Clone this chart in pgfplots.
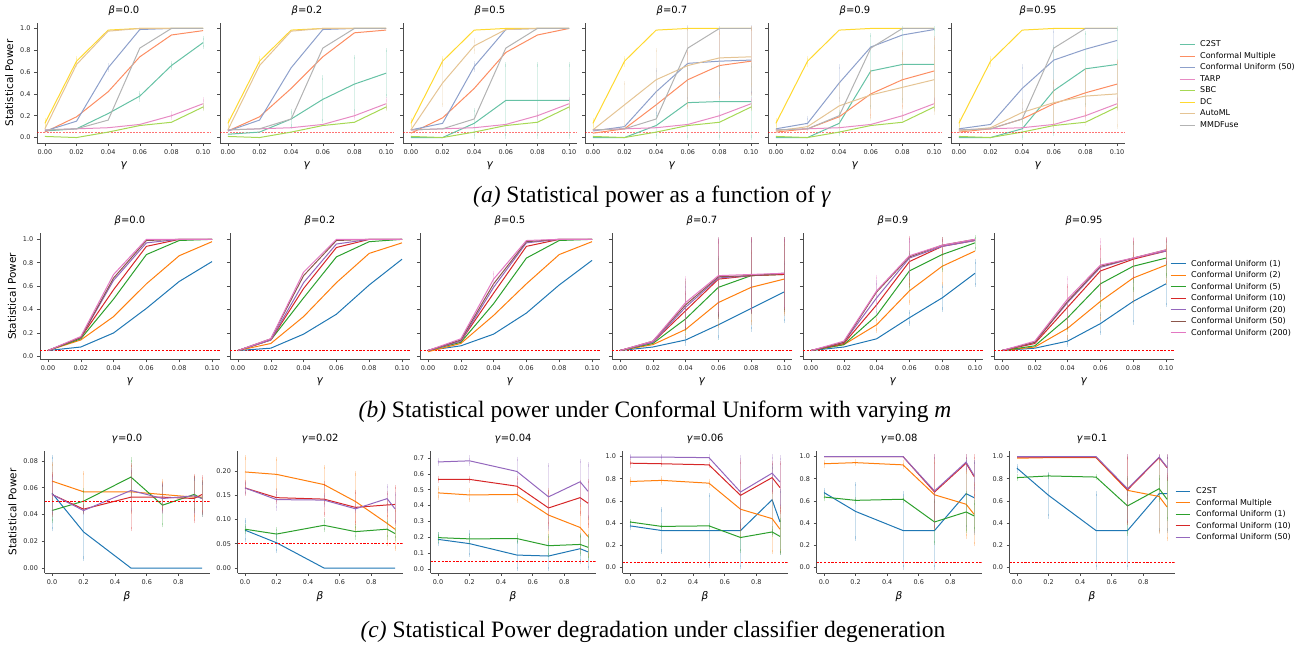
\documentclass[border=0pt]{standalone}
\usepackage{fontspec}
\setmainfont{DejaVu Sans}
\newfontfamily\capfont{Liberation Serif}
\usepackage{pgfplots}
\pgfplotsset{compat=1.18}

\definecolor{sA}{HTML}{66C2A5}
\definecolor{sB}{HTML}{FC8D62}
\definecolor{sC}{HTML}{8DA0CB}
\definecolor{sD}{HTML}{E78AC3}
\definecolor{sE}{HTML}{A6D854}
\definecolor{sF}{HTML}{FFD92F}
\definecolor{sG}{HTML}{E5C494}
\definecolor{sH}{HTML}{B3B3B3}
\definecolor{tA}{HTML}{1F77B4}
\definecolor{tB}{HTML}{FF7F0E}
\definecolor{tC}{HTML}{2CA02C}
\definecolor{tD}{HTML}{D62728}
\definecolor{tE}{HTML}{9467BD}
\definecolor{tF}{HTML}{8C564B}
\definecolor{tG}{HTML}{E377C2}

\pgfplotsset{
  base/.style={
    scale only axis, axis lines=left, scaled ticks=false,
    axis line style={-, draw=black!70, line width=0.6pt},
    tick align=outside, major tick length=3pt,
    tick style={draw=black!70, line width=0.6pt},
    ticklabel style={font=\fontsize{6.5}{7}\selectfont, text=black!85},
    /pgf/number format/assume math mode=true,
    title style={font=\fontsize{10}{12}\selectfont, yshift=-2pt},
    label style={font=\fontsize{10.5}{12}\selectfont},
    every axis plot/.append style={line width=1pt},
    anchor=south west,
  },
  xtwo/.style={xticklabel style={/pgf/number format/fixed, /pgf/number format/fixed zerofill, /pgf/number format/precision=2}},
  xone/.style={xticklabel style={/pgf/number format/fixed, /pgf/number format/fixed zerofill, /pgf/number format/precision=1}},
  ytwo/.style={yticklabel style={/pgf/number format/fixed, /pgf/number format/fixed zerofill, /pgf/number format/precision=2}},
  yone/.style={yticklabel style={/pgf/number format/fixed, /pgf/number format/fixed zerofill, /pgf/number format/precision=1}},
  rowa/.style={base, width=174pt, height=120pt,
    xmin=-0.005, xmax=0.105, ymin=-0.05, ymax=1.05,
    xtick={0,0.02,0.04,0.06,0.08,0.1}, ytick={0,0.2,0.4,0.6,0.8,1},
    xtwo, xlabel={\textit{γ}}},
  rowb/.style={base, width=180.4pt, height=125.8pt,
    xmin=-0.005, xmax=0.105, ymin=-0.025, ymax=1.05,
    xtick={0,0.02,0.04,0.06,0.08,0.1}, ytick={0,0.2,0.4,0.6,0.8,1},
    xtwo, xlabel={\textit{γ}}},
  rowc/.style={base, width=165pt, height=122pt,
    xmin=-0.0475, xmax=0.9975,
    xtick={0,0.2,0.4,0.6,0.8}, xone, xlabel={\textit{β}}},
  eb/.style={/pgfplots/error bars/y dir=both, /pgfplots/error bars/y explicit,
    /pgfplots/error bars/error bar style={line width=0.8pt, opacity=0.25},
    /pgfplots/error bars/error mark options={mark size=2.2pt, line width=0.8pt, opacity=0.25}},
  legbase/.style={legend cell align=left,
    legend style={draw=none, fill=none, inner sep=0pt, at={(1,0.5)}, anchor=west,
      font=\fontsize{8}{9}\selectfont,
      nodes={inner sep=1pt, text height=6pt, text depth=1.5pt}, row sep=2pt}},
}

% series identical in every panel of row (a)
\newcommand{\TARP}{\addplot[sD, eb] coordinates {(0,0.07) (0.02,0.08) (0.04,0.09) (0.06,0.12) (0.08,0.20) +- (0,0.02) (0.1,0.31) +- (0,0.04)};}
\newcommand{\SBC}{\addplot[sE, eb] coordinates {(0,0.01) (0.02,0) (0.04,0.05) (0.06,0.11) (0.08,0.14) (0.1,0.28) +- (0,0.02)};}
\newcommand{\DC}{\addplot[sF, eb] coordinates {(0,0.13) +- (0,0.03) (0.02,0.70) +- (0,0.03) (0.04,0.985) (0.06,1) (0.08,1) (0.1,1)};}
\newcommand{\MMD}[1]{\addplot[sH] coordinates {(0,0.07) (0.02,0.08) (0.04,#1) (0.06,0.82) (0.08,1) (0.1,1)};}
% 0.05 reference lines
\newcommand{\THA}{\addplot[draw=red, opacity=0.55, line width=0.9pt, dash pattern=on 2pt off 1.2pt, forget plot] coordinates {(-0.005,0.05) (0.105,0.05)};}
\newcommand{\THB}{\addplot[draw=red, line width=0.7pt, dash pattern=on 2.2pt off 1.5pt, forget plot] coordinates {(-0.005,0.05) (0.105,0.05)};}
\newcommand{\THC}{\addplot[draw=red, line width=0.7pt, dash pattern=on 2.2pt off 1.5pt, forget plot] coordinates {(-0.0475,0.05) (0.9975,0.05)};}

\begin{document}
\begin{tikzpicture}
\path[use as bounding box] (0,0) rectangle (1306pt,647pt);

% ===================== row (a) =====================
\begin{axis}[rowa, yone, at={(37pt,504pt)}, title={\textit{β}=0.0}, ylabel={Statistical Power}]
\THA
\addplot[sA, eb] coordinates {(0,0.06) (0.02,0.08) (0.04,0.22) (0.06,0.38) +- (0,0.03) (0.08,0.66) +- (0,0.02) (0.1,0.87) +- (0,0.04)};
\addplot[sB] coordinates {(0,0.05) (0.02,0.19) (0.04,0.42) (0.06,0.74) (0.08,0.94) (0.1,0.98)};
\addplot[sC, eb] coordinates {(0,0.06) (0.02,0.15) (0.04,0.64) +- (0,0.02) (0.06,0.99) (0.08,1) (0.1,1)};
\TARP \SBC \DC
\addplot[sG] coordinates {(0,0.08) (0.02,0.67) (0.04,0.975) (0.06,1) (0.08,1) (0.1,1)};
\MMD{0.16}
\end{axis}

\begin{axis}[rowa, yticklabels={}, at={(220pt,504pt)}, title={\textit{β}=0.2}]
\THA
\addplot[sA, eb] coordinates {(0,0.03) (0.02,0.05) (0.04,0.17) +- (0,0.07) (0.06,0.35) +- (0,0.2) (0.08,0.49) +- (0,0.25) (0.1,0.59) +- (0,0.21)};
\addplot[sB] coordinates {(0,0.06) (0.02,0.19) (0.04,0.45) (0.06,0.74) (0.08,0.96) (0.1,0.985)};
\addplot[sC] coordinates {(0,0.06) (0.02,0.16) (0.04,0.64) (0.06,0.99) (0.08,1) (0.1,1)};
\TARP \SBC \DC
\addplot[sG] coordinates {(0,0.07) (0.02,0.66) (0.04,0.975) (0.06,1) (0.08,1) (0.1,1)};
\MMD{0.17}
\end{axis}

\begin{axis}[rowa, yticklabels={}, at={(403pt,504pt)}, title={\textit{β}=0.5}]
\THA
\addplot[sA, eb] coordinates {(0,0) (0.02,0) (0.04,0.13) +- (0,0.12) (0.06,0.34) +- (0,0.33) (0.08,0.34) +- (0,0.33) (0.1,0.34) +- (0,0.33)};
\addplot[sB] coordinates {(0,0.04) (0.02,0.18) (0.04,0.45) (0.06,0.78) (0.08,0.94) (0.1,1)};
\addplot[sC, eb] coordinates {(0,0.07) (0.02,0.13) (0.04,0.65) +- (0,0.03) (0.06,0.99) (0.08,1) (0.1,1)};
\TARP \SBC \DC
\addplot[sG, eb] coordinates {(0,0.07) (0.02,0.50) +- (0,0.2) (0.04,0.84) +- (0,0.05) (0.06,0.99) (0.08,1) (0.1,1)};
\MMD{0.17}
\end{axis}

\begin{axis}[rowa, yticklabels={}, at={(585pt,504pt)}, title={\textit{β}=0.7}]
\THA
\addplot[sA, eb] coordinates {(0,0) (0.02,0) (0.04,0.11) +- (0,0.1) (0.06,0.32) +- (0,0.32) (0.08,0.33) +- (0,0.33) (0.1,0.33) +- (0,0.33)};
\addplot[sB, eb] coordinates {(0,0.04) (0.02,0.08) (0.04,0.30) (0.06,0.53) +- (0,0.25) (0.08,0.66) +- (0,0.3) (0.1,0.70) +- (0,0.3)};
\addplot[sC, eb] coordinates {(0,0.06) (0.02,0.10) (0.04,0.42) +- (0,0.2) (0.06,0.68) +- (0,0.33) (0.08,0.70) +- (0,0.3) (0.1,0.71) +- (0,0.3)};
\TARP \SBC \DC
\addplot[sG, eb] coordinates {(0,0.07) (0.02,0.30) +- (0,0.2) (0.04,0.53) +- (0,0.27) (0.06,0.66) +- (0,0.34) (0.08,0.73) +- (0,0.25) (0.1,0.74) +- (0,0.26)};
\MMD{0.17}
\end{axis}

\begin{axis}[rowa, yticklabels={}, at={(768pt,504pt)}, title={\textit{β}=0.9}]
\THA
\addplot[sA, eb] coordinates {(0,0) (0.02,0) (0.04,0.13) +- (0,0.1) (0.06,0.61) +- (0,0.33) (0.08,0.67) +- (0,0.33) (0.1,0.67) +- (0,0.33)};
\addplot[sB, eb] coordinates {(0,0.05) (0.02,0.08) (0.04,0.19) (0.06,0.40) +- (0,0.2) (0.08,0.53) +- (0,0.25) (0.1,0.61) +- (0,0.3)};
\addplot[sC, eb] coordinates {(0,0.08) (0.02,0.13) +- (0,0.05) (0.04,0.50) +- (0,0.15) (0.06,0.83) (0.08,0.94) (0.1,0.99)};
\TARP \SBC \DC
\addplot[sG, eb] coordinates {(0,0.06) (0.02,0.10) (0.04,0.29) +- (0,0.2) (0.06,0.39) +- (0,0.22) (0.08,0.46) +- (0,0.3) (0.1,0.53) +- (0,0.3)};
\MMD{0.20}
\end{axis}

\begin{axis}[rowa, yticklabels={}, at={(951pt,504pt)}, title={\textit{β}=0.95},
  legbase, legend image code/.code={\draw[#1] (0pt,0pt) -- (15pt,0pt);},
  legend style={xshift=54pt, yshift=-2pt, /tikz/every odd column/.append style={column sep=4pt}}]
\addplot[sA, eb] coordinates {(0,0) (0.02,0) (0.04,0.08) +- (0,0.08) (0.06,0.43) +- (0,0.4) (0.08,0.63) +- (0,0.33) (0.1,0.67) +- (0,0.33)};
\addlegendentry{C2ST}
\addplot[sB, eb] coordinates {(0,0.05) (0.02,0.08) (0.04,0.17) (0.06,0.31) +- (0,0.2) (0.08,0.41) +- (0,0.2) (0.1,0.49) +- (0,0.2)};
\addlegendentry{Conformal Multiple}
\addplot[sC, eb] coordinates {(0,0.08) (0.02,0.12) (0.04,0.45) +- (0,0.2) (0.06,0.71) +- (0,0.27) (0.08,0.81) (0.1,0.89)};
\addlegendentry{Conformal Uniform (50)}
\TARP \addlegendentry{TARP}
\SBC \addlegendentry{SBC}
\DC \addlegendentry{DC}
\addplot[sG, eb] coordinates {(0,0.06) (0.02,0.09) (0.04,0.23) +- (0,0.1) (0.06,0.32) +- (0,0.2) (0.08,0.38) +- (0,0.25) (0.1,0.40) +- (0,0.3)};
\addlegendentry{AutoML}
\MMD{0.17} \addlegendentry{MMDFuse}
\THA
\end{axis}

\node[font=\capfont\fontsize{23.5}{28}\selectfont] at (652pt,450pt) {\textit{(a)} Statistical power as a function of \textit{γ}};

% ===================== row (b) =====================
\begin{axis}[rowb, yone, at={(39.8pt,287.7pt)}, title={\textit{β}=0.0}, ylabel={Statistical Power}]
\THB
\addplot[tA] coordinates {(0,0.05) (0.02,0.08) (0.04,0.20) (0.06,0.41) (0.08,0.64) (0.1,0.81)};
\addplot[tB] coordinates {(0,0.05) (0.02,0.14) (0.04,0.34) (0.06,0.62) (0.08,0.86) (0.1,0.98)};
\addplot[tC] coordinates {(0,0.05) (0.02,0.15) (0.04,0.49) (0.06,0.87) (0.08,0.99) (0.1,1)};
\addplot[tD] coordinates {(0,0.05) (0.02,0.16) (0.04,0.57) (0.06,0.94) (0.08,1) (0.1,1)};
\addplot[tE] coordinates {(0,0.05) (0.02,0.16) (0.04,0.65) (0.06,0.97) (0.08,1) (0.1,1)};
\addplot[tF] coordinates {(0,0.05) (0.02,0.16) (0.04,0.67) (0.06,0.99) (0.08,1) (0.1,1)};
\addplot[tG] coordinates {(0,0.05) (0.02,0.17) (0.04,0.70) (0.06,1) (0.08,1) (0.1,1)};
\end{axis}

\begin{axis}[rowb, yticklabels={}, at={(229.8pt,287.7pt)}, title={\textit{β}=0.2}]
\THB
\addplot[tA] coordinates {(0,0.05) (0.02,0.07) (0.04,0.19) (0.06,0.36) (0.08,0.61) (0.1,0.83)};
\addplot[tB] coordinates {(0,0.05) (0.02,0.11) (0.04,0.34) (0.06,0.63) (0.08,0.88) (0.1,0.97)};
\addplot[tC] coordinates {(0,0.05) (0.02,0.14) (0.04,0.50) (0.06,0.85) (0.08,0.98) (0.1,1)};
\addplot[tD] coordinates {(0,0.05) (0.02,0.14) (0.04,0.58) (0.06,0.93) (0.08,1) (0.1,1)};
\addplot[tE] coordinates {(0,0.05) (0.02,0.14) (0.04,0.63) (0.06,0.96) (0.08,1) (0.1,1)};
\addplot[tF] coordinates {(0,0.05) (0.02,0.15) (0.04,0.69) (0.06,0.99) (0.08,1) (0.1,1)};
\addplot[tG] coordinates {(0,0.05) (0.02,0.15) (0.04,0.72) (0.06,1) (0.08,1) (0.1,1)};
\end{axis}

\begin{axis}[rowb, yticklabels={}, at={(419.8pt,287.7pt)}, title={\textit{β}=0.5}]
\THB
\addplot[tA] coordinates {(0,0.05) (0.02,0.09) (0.04,0.19) (0.06,0.37) (0.08,0.61) (0.1,0.82)};
\addplot[tB] coordinates {(0,0.04) (0.02,0.11) (0.04,0.35) (0.06,0.62) (0.08,0.87) (0.1,0.98)};
\addplot[tC] coordinates {(0,0.05) (0.02,0.12) (0.04,0.45) (0.06,0.84) (0.08,0.99) (0.1,1)};
\addplot[tD] coordinates {(0,0.05) (0.02,0.13) (0.04,0.54) (0.06,0.94) (0.08,1) (0.1,1)};
\addplot[tE] coordinates {(0,0.05) (0.02,0.13) (0.04,0.59) (0.06,0.97) (0.08,1) (0.1,1)};
\addplot[tF] coordinates {(0,0.05) (0.02,0.14) (0.04,0.62) (0.06,0.98) (0.08,1) (0.1,1)};
\addplot[tG, eb] coordinates {(0,0.05) (0.02,0.15) (0.04,0.66) +- (0,0.05) (0.06,0.99) (0.08,1) (0.1,1)};
\end{axis}

\begin{axis}[rowb, yticklabels={}, at={(611.8pt,287.7pt)}, title={\textit{β}=0.7}]
\THB
\addplot[tA, eb] coordinates {(0,0.05) (0.02,0.08) (0.04,0.14) +- (0,0.03) (0.06,0.27) +- (0,0.11) (0.08,0.41) +- (0,0.18) (0.1,0.55) +- (0,0.25)};
\addplot[tB, eb] coordinates {(0,0.05) (0.02,0.10) (0.04,0.23) +- (0,0.05) (0.06,0.46) +- (0,0.2) (0.08,0.59) +- (0,0.3) (0.1,0.66) +- (0,0.3)};
\addplot[tC, eb] coordinates {(0,0.05) (0.02,0.11) (0.04,0.32) +- (0,0.1) (0.06,0.59) +- (0,0.25) (0.08,0.69) +- (0,0.3) (0.1,0.70) +- (0,0.3)};
\addplot[tD, eb] coordinates {(0,0.05) (0.02,0.12) (0.04,0.39) +- (0,0.15) (0.06,0.66) +- (0,0.32) (0.08,0.69) +- (0,0.31) (0.1,0.70) +- (0,0.3)};
\addplot[tE, eb] coordinates {(0,0.05) (0.02,0.12) (0.04,0.42) +- (0,0.18) (0.06,0.67) +- (0,0.32) (0.08,0.69) +- (0,0.31) (0.1,0.71) +- (0,0.29)};
\addplot[tF, eb] coordinates {(0,0.05) (0.02,0.13) (0.04,0.44) +- (0,0.2) (0.06,0.68) +- (0,0.32) (0.08,0.69) +- (0,0.31) (0.1,0.71) +- (0,0.29)};
\addplot[tG, eb] coordinates {(0,0.05) (0.02,0.13) (0.04,0.46) +- (0,0.21) (0.06,0.69) +- (0,0.31) (0.08,0.70) +- (0,0.3) (0.1,0.71) +- (0,0.29)};
\end{axis}

\begin{axis}[rowb, yticklabels={}, at={(802.8pt,287.7pt)}, title={\textit{β}=0.9}]
\THB
\addplot[tA, eb] coordinates {(0,0.05) (0.02,0.08) (0.04,0.15) (0.06,0.33) +- (0,0.05) (0.08,0.50) +- (0,0.1) (0.1,0.71) +- (0,0.1)};
\addplot[tB, eb] coordinates {(0,0.05) (0.02,0.10) (0.04,0.27) +- (0,0.05) (0.06,0.56) +- (0,0.1) (0.08,0.77) +- (0,0.15) (0.1,0.90)};
\addplot[tC, eb] coordinates {(0,0.05) (0.02,0.10) (0.04,0.35) (0.06,0.73) +- (0,0.15) (0.08,0.87) +- (0,0.13) (0.1,0.97) +- (0,0.05)};
\addplot[tD, eb] coordinates {(0,0.05) (0.02,0.11) (0.04,0.44) (0.06,0.81) +- (0,0.2) (0.08,0.94) +- (0,0.06) (0.1,0.99)};
\addplot[tE, eb] coordinates {(0,0.05) (0.02,0.12) (0.04,0.50) +- (0,0.13) (0.06,0.84) +- (0,0.15) (0.08,0.94) (0.1,0.99)};
\addplot[tF] coordinates {(0,0.05) (0.02,0.12) (0.04,0.55) (0.06,0.85) (0.08,0.95) (0.1,1)};
\addplot[tG, eb] coordinates {(0,0.05) (0.02,0.13) (0.04,0.56) +- (0,0.12) (0.06,0.86) +- (0,0.14) (0.08,0.95) +- (0,0.05) (0.1,1)};
\end{axis}

\begin{axis}[rowb, yticklabels={}, at={(993.8pt,287.7pt)}, title={\textit{β}=0.95},
  legbase, legend image code/.code={\draw[#1] (0pt,0pt) -- (15pt,0pt);},
  legend style={xshift=-4.2pt, yshift=-2pt, /tikz/every odd column/.append style={column sep=4pt}}]
\addplot[tA, eb] coordinates {(0,0.05) (0.02,0.07) (0.04,0.13) +- (0,0.03) (0.06,0.28) +- (0,0.08) (0.08,0.47) +- (0,0.18) (0.1,0.62) +- (0,0.18)};
\addlegendentry{Conformal Uniform (1)}
\addplot[tB, eb] coordinates {(0,0.05) (0.02,0.08) (0.04,0.24) +- (0,0.08) (0.06,0.47) +- (0,0.15) (0.08,0.67) +- (0,0.2) (0.1,0.78) +- (0,0.15)};
\addlegendentry{Conformal Uniform (2)}
\addplot[tC, eb] coordinates {(0,0.05) (0.02,0.09) (0.04,0.33) +- (0,0.1) (0.06,0.62) +- (0,0.2) (0.08,0.77) +- (0,0.2) (0.1,0.84) +- (0,0.15)};
\addlegendentry{Conformal Uniform (5)}
\addplot[tD, eb] coordinates {(0,0.05) (0.02,0.11) (0.04,0.42) +- (0,0.18) (0.06,0.73) +- (0,0.2) (0.08,0.83) +- (0,0.16) (0.1,0.90) +- (0,0.1)};
\addlegendentry{Conformal Uniform (10)}
\addplot[tE] coordinates {(0,0.05) (0.02,0.12) (0.04,0.46) (0.06,0.76) (0.08,0.84) (0.1,0.90)};
\addlegendentry{Conformal Uniform (20)}
\addplot[tF] coordinates {(0,0.05) (0.02,0.12) (0.04,0.47) (0.06,0.77) (0.08,0.84) (0.1,0.91)};
\addlegendentry{Conformal Uniform (50)}
\addplot[tG, eb] coordinates {(0,0.05) (0.02,0.13) (0.04,0.49) +- (0,0.18) (0.06,0.78) +- (0,0.21) (0.08,0.84) +- (0,0.16) (0.1,0.91) +- (0,0.09)};
\addlegendentry{Conformal Uniform (200)}
\THB
\end{axis}

\node[font=\capfont\fontsize{23.5}{28}\selectfont] at (655pt,235pt) {\textit{(b)} Statistical power under Conformal Uniform with varying \textit{m}};

% ===================== row (c) =====================
\begin{axis}[rowc, at={(44.5pt,74pt)}, title={\textit{γ}=0.0}, ylabel={Statistical Power},
  ymin=-0.0037, ymax=0.0875, ytick={0,0.02,0.04,0.06,0.08}, ytwo]
\addplot[tA, eb] coordinates {(0,0.056) +- (0,0.027) (0.2,0.027) +- (0,0.02) (0.5,0) (0.7,0) (0.9,0) (0.95,0)};
\addplot[tB, eb] coordinates {(0,0.065) +- (0,0.013) (0.2,0.057) +- (0,0.014) (0.5,0.057) +- (0,0.015) (0.7,0.055) +- (0,0.01) (0.9,0.053) +- (0,0.015) (0.95,0.053) +- (0,0.012)};
\addplot[tC, eb] coordinates {(0,0.043) +- (0,0.008) (0.2,0.050) +- (0,0.008) (0.5,0.068) +- (0,0.013) (0.7,0.047) +- (0,0.015) (0.9,0.055) +- (0,0.012) (0.95,0.052) +- (0,0.012)};
\addplot[tD, eb] coordinates {(0,0.055) +- (0,0.015) (0.2,0.044) +- (0,0.002) (0.5,0.053) +- (0,0.024) (0.7,0.053) +- (0,0.01) (0.9,0.052) +- (0,0.017) (0.95,0.055) +- (0,0.013)};
\addplot[tE, eb] coordinates {(0,0.055) +- (0,0.013) (0.2,0.043) +- (0,0.002) (0.5,0.058) +- (0,0.015) (0.7,0.052) +- (0,0.01) (0.9,0.054) +- (0,0.013) (0.95,0.052) +- (0,0.012)};
\THC
\end{axis}

\begin{axis}[rowc, at={(237.5pt,74pt)}, title={\textit{γ}=0.02},
  ymin=-0.0103, ymax=0.2412, ytick={0,0.05,0.1,0.15,0.2}, ytwo]
\addplot[tA, eb] coordinates {(0,0.078) +- (0,0.02) (0.2,0.052) +- (0,0.017) (0.5,0) (0.7,0) (0.9,0) (0.95,0)};
\addplot[tB, eb] coordinates {(0,0.198) +- (0,0.03) (0.2,0.193) +- (0,0.032) (0.5,0.172) +- (0,0.036) (0.7,0.137) +- (0,0.058) (0.9,0.092) +- (0,0.043) (0.95,0.08) +- (0,0.04)};
\addplot[tC, eb] coordinates {(0,0.08) +- (0,0.006) (0.2,0.07) +- (0,0.01) (0.5,0.088) +- (0,0.01) (0.7,0.075) +- (0,0.012) (0.9,0.08) +- (0,0.017) (0.95,0.071) +- (0,0.01)};
\addplot[tD, eb] coordinates {(0,0.165) +- (0,0.012) (0.2,0.145) +- (0,0.008) (0.5,0.142) +- (0,0.032) (0.7,0.125) +- (0,0.032) (0.9,0.13) +- (0,0.025) (0.95,0.131) +- (0,0.036)};
\addplot[tE, eb] coordinates {(0,0.165) +- (0,0.01) (0.2,0.141) +- (0,0.018) (0.5,0.14) +- (0,0.01) (0.7,0.122) +- (0,0.005) (0.9,0.143) +- (0,0.026) (0.95,0.122) +- (0,0.03)};
\THC
\end{axis}

\begin{axis}[rowc, at={(430.5pt,74pt)}, title={\textit{γ}=0.04},
  ymin=-0.025, ymax=0.744, ytick={0,0.1,0.2,0.3,0.4,0.5,0.6,0.7}, yone]
\addplot[tA, eb] coordinates {(0,0.187) +- (0,0.03) (0.2,0.16) +- (0,0.07) (0.5,0.088) +- (0,0.088) (0.7,0.082) +- (0,0.082) (0.9,0.128) +- (0,0.08) (0.95,0.108) +- (0,0.1)};
\addplot[tB, eb] coordinates {(0,0.48) +- (0,0.03) (0.2,0.467) +- (0,0.033) (0.5,0.47) +- (0,0.04) (0.7,0.34) +- (0,0.16) (0.9,0.262) +- (0,0.14) (0.95,0.205) +- (0,0.12)};
\addplot[tC, eb] coordinates {(0,0.198) +- (0,0.02) (0.2,0.19) +- (0,0.02) (0.5,0.192) +- (0,0.02) (0.7,0.147) +- (0,0.06) (0.9,0.155) +- (0,0.06) (0.95,0.137) +- (0,0.07)};
\addplot[tD, eb] coordinates {(0,0.565) +- (0,0.01) (0.2,0.565) +- (0,0.01) (0.5,0.522) +- (0,0.05) (0.7,0.385) +- (0,0.1) (0.9,0.45) +- (0,0.1) (0.95,0.415) +- (0,0.14)};
\addplot[tE, eb] coordinates {(0,0.675) +- (0,0.013) (0.2,0.682) +- (0,0.02) (0.5,0.615) +- (0,0.08) (0.7,0.455) +- (0,0.2) (0.9,0.55) +- (0,0.13) (0.95,0.49) +- (0,0.17)};
\THC
\end{axis}

\begin{axis}[rowc, at={(622.5pt,74pt)}, title={\textit{γ}=0.06},
  ymin=-0.05, ymax=1.05, ytick={0,0.2,0.4,0.6,0.8,1}, yone]
\addplot[tA, eb] coordinates {(0,0.375) +- (0,0.02) (0.2,0.333) +- (0,0.19) (0.5,0.333) +- (0,0.32) (0.7,0.333) +- (0,0.33) (0.9,0.61) +- (0,0.3) (0.95,0.41) +- (0,0.28)};
\addplot[tB, eb] coordinates {(0,0.775) +- (0,0.02) (0.2,0.785) +- (0,0.02) (0.5,0.76) +- (0,0.02) (0.7,0.525) +- (0,0.25) (0.9,0.44) +- (0,0.3) (0.95,0.345) +- (0,0.2)};
\addplot[tC, eb] coordinates {(0,0.41) +- (0,0.01) (0.2,0.37) +- (0,0.01) (0.5,0.375) +- (0,0.01) (0.7,0.27) +- (0,0.12) (0.9,0.32) +- (0,0.03) (0.95,0.28) +- (0,0.15)};
\addplot[tD, eb] coordinates {(0,0.94) +- (0,0.02) (0.2,0.935) +- (0,0.01) (0.5,0.925) +- (0,0.01) (0.7,0.65) +- (0,0.3) (0.9,0.81) +- (0,0.13) (0.95,0.72) +- (0,0.22)};
\addplot[tE, eb] coordinates {(0,0.995) +- (0,0.005) (0.2,0.995) +- (0,0.005) (0.5,0.99) +- (0,0.01) (0.7,0.68) +- (0,0.31) (0.9,0.85) +- (0,0.15) (0.95,0.77) +- (0,0.22)};
\THC
\end{axis}

\begin{axis}[rowc, at={(816.5pt,74pt)}, title={\textit{γ}=0.08},
  ymin=-0.05, ymax=1.05, ytick={0,0.2,0.4,0.6,0.8,1}, yone]
\addplot[tA, eb] coordinates {(0,0.675) +- (0,0.02) (0.2,0.505) +- (0,0.245) (0.5,0.333) +- (0,0.333) (0.7,0.333) +- (0,0.333) (0.9,0.665) +- (0,0.3) (0.95,0.63) +- (0,0.32)};
\addplot[tB, eb] coordinates {(0,0.935) +- (0,0.015) (0.2,0.945) +- (0,0.01) (0.5,0.925) +- (0,0.02) (0.7,0.655) +- (0,0.3) (0.9,0.57) +- (0,0.29) (0.95,0.48) +- (0,0.27)};
\addplot[tC, eb] coordinates {(0,0.635) +- (0,0.02) (0.2,0.605) +- (0,0.01) (0.5,0.615) +- (0,0.01) (0.7,0.41) +- (0,0.19) (0.9,0.50) +- (0,0.17) (0.95,0.465) +- (0,0.12)};
\addplot[tD, eb] coordinates {(0,1) (0.2,1) (0.5,1) (0.7,0.68) +- (0,0.32) (0.9,0.94) +- (0,0.06) (0.95,0.82) +- (0,0.18)};
\addplot[tE, eb] coordinates {(0,1) (0.2,1) (0.5,1) (0.7,0.69) +- (0,0.31) (0.9,0.95) +- (0,0.05) (0.95,0.83) +- (0,0.12)};
\THC
\end{axis}

\begin{axis}[rowc, at={(1009.5pt,74pt)}, title={\textit{γ}=0.1},
  ymin=-0.05, ymax=1.05, ytick={0,0.2,0.4,0.6,0.8,1}, yone,
  legbase, legend image code/.code={\draw[#1] (0pt,0pt) -- (14pt,0pt);},
  legend style={xshift=0.5pt, yshift=-2.5pt, /tikz/every odd column/.append style={column sep=5pt}}]
\addplot[tA, eb] coordinates {(0,0.895) +- (0,0.02) (0.2,0.65) +- (0,0.19) (0.5,0.333) +- (0,0.333) (0.7,0.333) +- (0,0.333) (0.9,0.665) +- (0,0.333) (0.95,0.665) +- (0,0.333)};
\addlegendentry{C2ST}
\addplot[tB, eb] coordinates {(0,0.985) (0.2,0.99) (0.5,0.99) (0.7,0.695) +- (0,0.29) (0.9,0.64) +- (0,0.32) (0.95,0.545) +- (0,0.29)};
\addlegendentry{Conformal Multiple}
\addplot[tC, eb] coordinates {(0,0.81) +- (0,0.01) (0.2,0.825) +- (0,0.01) (0.5,0.815) +- (0,0.01) (0.7,0.555) +- (0,0.25) (0.9,0.71) +- (0,0.1) (0.95,0.615) +- (0,0.18)};
\addlegendentry{Conformal Uniform (1)}
\addplot[tD, eb] coordinates {(0,0.995) (0.2,0.995) (0.5,0.995) (0.7,0.70) +- (0,0.3) (0.9,0.99) +- (0,0.01) (0.95,0.90) +- (0,0.1)};
\addlegendentry{Conformal Uniform (10)}
\addplot[tE, eb] coordinates {(0,1) (0.2,1) (0.5,1) (0.7,0.71) +- (0,0.29) (0.9,0.995) +- (0,0.005) (0.95,0.905) +- (0,0.095)};
\addlegendentry{Conformal Uniform (50)}
\THC
\end{axis}

\node[font=\capfont\fontsize{23.5}{28}\selectfont] at (653pt,15pt) {\textit{(c)} Statistical Power degradation under classifier degeneration};
\end{tikzpicture}
\end{document}
